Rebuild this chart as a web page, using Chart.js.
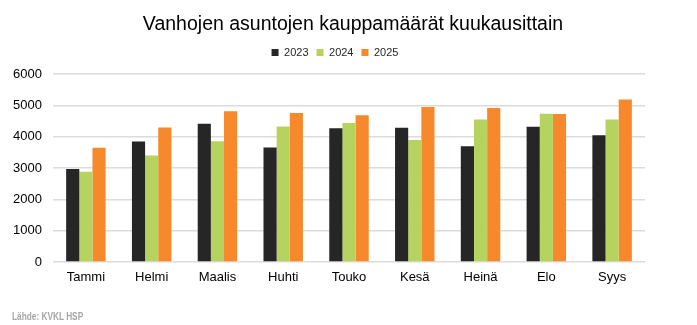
<!DOCTYPE html>
<html>
<head>
<meta charset="utf-8">
<script src="https://cdn.jsdelivr.net/npm/chart.js@4"></script>
<style>
  body { margin: 0; background: #fff; }
  #wrap { position: relative; width: 697px; height: 325px; }
  #title { position: absolute; left: 0; top: 13.5px; width: 706px; text-align: center; font: 19.5px/19.5px "Liberation Sans", Arial, sans-serif; color: #000; white-space: nowrap; }
  #source { position: absolute; left: 12px; top: 310.5px; font: bold 11.5px/11.5px "Liberation Sans", Arial, sans-serif; color: #a6a6a6; transform: scaleX(0.72); transform-origin: left; white-space: nowrap; }
</style>
</head>
<body>
<div id="wrap">
  <canvas id="chart" width="697" height="325"></canvas>
  <div id="title">Vanhojen asuntojen kauppamäärät kuukausittain</div>
  <div id="source">Lähde: KVKL HSP</div>
</div>
<script>
  const months = ['Tammi', 'Helmi', 'Maalis', 'Huhti', 'Touko', 'Kesä', 'Heinä', 'Elo', 'Syys'];
  const sales2023 = [2970, 3850, 4420, 3660, 4270, 4290, 3700, 4320, 4050];
  const sales2024 = [2880, 3400, 3860, 4330, 4440, 3900, 4550, 4740, 4550];
  const sales2025 = [3650, 4300, 4820, 4760, 4690, 4950, 4920, 4730, 5190];
  const yTicks = [0, 1000, 2000, 3000, 4000, 5000, 6000];

  const font = "'Liberation Sans', Arial, sans-serif";

  const bar = (label, data, color) => ({
    label: label,
    data: data,
    backgroundColor: color,
    borderWidth: 0,
    categoryPercentage: 0.6,
    barPercentage: 1.0
  });

  new Chart(document.getElementById('chart'), {
    type: 'bar',
    data: {
      labels: months,
      datasets: [
        bar('2023', sales2023, '#262626'),
        bar('2024', sales2024, '#b7d35f'),
        bar('2025', sales2025, '#f7882b')
      ]
    },
    options: {
      responsive: false,
      animation: false,
      layout: { padding: { left: 0, right: 27, top: 39, bottom: 0 } },
      plugins: {
        legend: {
          position: 'top',
          labels: {
            color: '#262626',
            font: { family: font, size: 11 },
            boxWidth: 7,
            boxHeight: 7,
            padding: 8
          }
        },
        // empty spacer between legend and plot
        subtitle: {
          display: true,
          text: '',
          weight: 500,
          font: { size: 1 },
          padding: { top: 0, bottom: 5 }
        },
        tooltip: { enabled: false }
      },
      scales: {
        x: {
          grid: { display: false, drawTicks: false },
          border: { display: false },
          ticks: { color: '#000', font: { family: font, size: 13 }, padding: 8 },
          afterFit: (s) => { s.height = 63; }
        },
        y: {
          min: 0,
          max: 6000,
          afterBuildTicks: (s) => { s.ticks = yTicks.map(v => ({ value: v })); },
          grid: { color: '#dcdcdc', lineWidth: 1.5, drawTicks: false },
          border: { display: false },
          ticks: { color: '#000', font: { family: font, size: 13 }, padding: 11, callback: (v) => String(v) },
          afterFit: (s) => { s.width = 53; }
        },
        // blank right margin
        y2: {
          position: 'right',
          grid: { display: false, drawTicks: false },
          border: { display: false },
          ticks: { display: false },
          afterFit: (s) => { s.width = 25; }
        }
      }
    }
  });
</script>
</body>
</html>
